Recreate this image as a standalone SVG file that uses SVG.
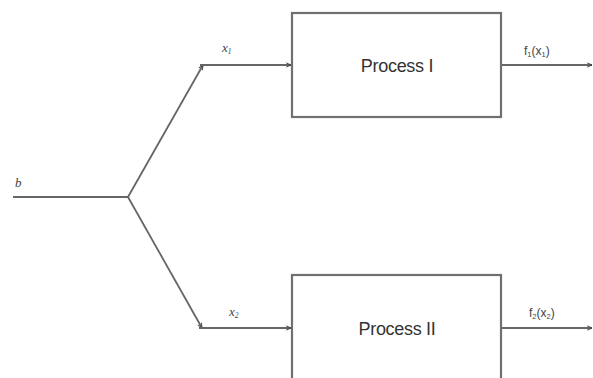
<svg xmlns="http://www.w3.org/2000/svg" width="593" height="378" viewBox="0 0 593 378">
  <style>
    .wire { stroke: #666666; stroke-width: 1.8; fill: none; }
    .box { stroke: #707070; stroke-width: 2.2; fill: #ffffff; }
    .title { font-family: "Liberation Sans", Arial, sans-serif; font-size: 18px; fill: #333333; text-anchor: middle; letter-spacing: -0.3px; }
    .math { font-family: "Liberation Serif", "Times New Roman", serif; font-style: italic; font-size: 13px; fill: #444444; }
    .fn { font-family: "Liberation Sans", Arial, sans-serif; font-size: 12px; fill: #444444; }
    .sub { font-size: 7.5px; }
  </style>
  <defs>
    <marker id="arrow" viewBox="0 0 10 10" refX="9" refY="5" markerWidth="6" markerHeight="6" orient="auto" markerUnits="userSpaceOnUse">
      <path d="M1,1.5 L9,5 L1,8.5" fill="none" stroke="#444444" stroke-width="1.6"/>
    </marker>
  </defs>

  <g id="connectors">
    <path class="wire" d="M13,197 L128,197"/>
    <path class="wire" d="M128,197 L203,65" marker-end="url(#arrow)"/>
    <path class="wire" d="M128,197 L202,328" marker-end="url(#arrow)"/>
    <path class="wire" d="M200,65 L291,65" marker-end="url(#arrow)"/>
    <path class="wire" d="M199,328 L291,328" marker-end="url(#arrow)"/>
    <path class="wire" d="M501,65 L592,65" marker-end="url(#arrow)"/>
    <path class="wire" d="M501,328 L592,328" marker-end="url(#arrow)"/>
  </g>

  <g id="input-label">
    <text class="math" x="15" y="187">b</text>
  </g>
  <g id="label-x1">
    <text class="math" x="222" y="52">x<tspan class="sub" dy="2">1</tspan></text>
  </g>
  <g id="label-x2">
    <text class="math" x="229" y="316">x<tspan class="sub" dy="2">2</tspan></text>
  </g>

  <g id="process-1">
    <rect class="box" x="292" y="13" width="209" height="104"/>
    <text class="title" x="397" y="72">Process I</text>
  </g>
  <g id="process-2">
    <rect class="box" x="292" y="275" width="209" height="110"/>
    <text class="title" x="397" y="335">Process II</text>
  </g>

  <g id="output-1">
    <text class="fn" x="524" y="55">f<tspan class="sub" dy="2">1</tspan><tspan dy="-2">(x</tspan><tspan class="sub" dy="2">1</tspan><tspan dy="-2">)</tspan></text>
  </g>
  <g id="output-2">
    <text class="fn" x="529" y="317">f<tspan class="sub" dy="2">2</tspan><tspan dy="-2">(x</tspan><tspan class="sub" dy="2">2</tspan><tspan dy="-2">)</tspan></text>
  </g>
</svg>
